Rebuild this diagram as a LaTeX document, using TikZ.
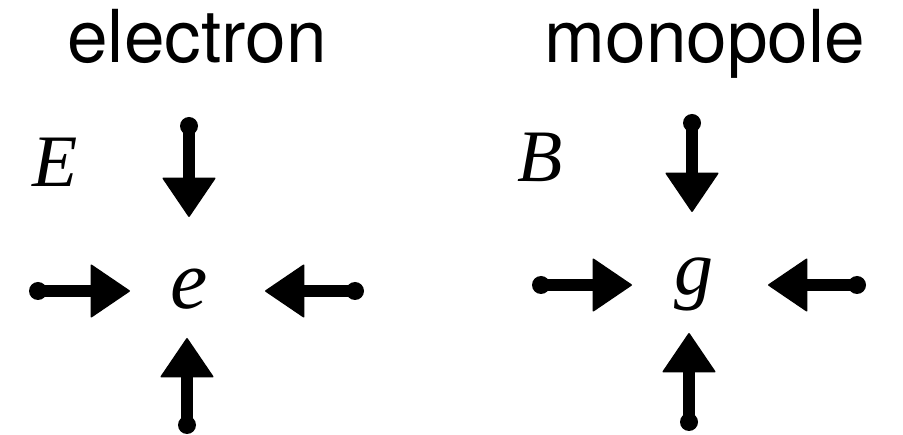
\documentclass[tikz,border=0pt]{standalone}
\usepackage{fontspec}
\setmainfont{Liberation Serif}
\newfontfamily\headfont{TeX Gyre Heros}
\newfontfamily\letterfont{Liberation Serif Italic}
\usetikzlibrary{arrows.meta}
\tikzset{
  fieldarrow/.style={draw=black, line width=12pt, line cap=round,
    -{Triangle[length=40pt,width=54pt,line width=1.5pt,round]}},
  tailbulb/.style={fill=black, circle, minimum size=18pt, inner sep=0pt},
  headlabel/.style={anchor=base, inner sep=0pt, font=\headfont\fontsize{73}{80}\selectfont},
  fieldlabel/.style={anchor=base, inner sep=0pt, font=\letterfont\fontsize{74}{80}\selectfont},
  charge/.style={anchor=base, inner sep=0pt}
}
\begin{document}
\begin{tikzpicture}[x=1pt,y=-1pt]
\useasboundingbox (0,0) rectangle (903,435);
% headings
\node[headlabel] (hel) at (197,63) {electron};
\node[headlabel] (hmo) at (705,63) {monopole};
% field labels
\node[fieldlabel] (lE) at (55,187) {E};
\node[fieldlabel] (lB) at (540,182) {B};
% charges
\node[charge, font=\letterfont\fontsize{84}{90}\selectfont] (qe) at (189,309) {e};
\node[charge, font=\letterfont\fontsize{78}{84}\selectfont] (qg) at (694,295) {g};
% electron arrow ends (tail bulbs are nodes)
\node[tailbulb] (et0) at (189,126) {}; \coordinate (et1) at (189,217);
\node[tailbulb] (el0) at (38,291) {};  \coordinate (el1) at (130,291);
\node[tailbulb] (er0) at (355,291) {}; \coordinate (er1) at (265,291);
\node[tailbulb] (eb0) at (187,425) {}; \coordinate (eb1) at (187,338);
% monopole arrow ends
\node[tailbulb] (mt0) at (692,123) {}; \coordinate (mt1) at (692,212);
\node[tailbulb] (ml0) at (541,285) {}; \coordinate (ml1) at (632,285);
\node[tailbulb] (mr0) at (857,285) {}; \coordinate (mr1) at (768,285);
\node[tailbulb] (mb0) at (689,422) {}; \coordinate (mb1) at (689,333);
% arrows
\draw[fieldarrow] (et0.center) -- (et1);
\draw[fieldarrow] (el0.center) -- (el1);
\draw[fieldarrow] (er0.center) -- (er1);
\draw[fieldarrow] (eb0.center) -- (eb1);
\draw[fieldarrow] (mt0.center) -- (mt1);
\draw[fieldarrow] (ml0.center) -- (ml1);
\draw[fieldarrow] (mr0.center) -- (mr1);
\draw[fieldarrow] (mb0.center) -- (mb1);
\end{tikzpicture}
\end{document}
